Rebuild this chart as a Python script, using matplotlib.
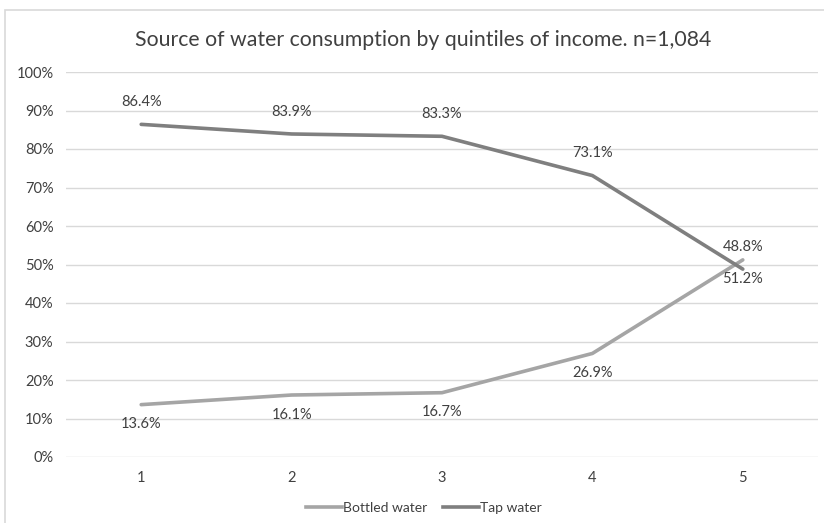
import matplotlib
matplotlib.use("Agg")
import matplotlib.pyplot as plt
from matplotlib.patches import Rectangle
from matplotlib.lines import Line2D

quintiles = [1, 2, 3, 4, 5]
bottled = [13.6, 16.1, 16.7, 26.9, 51.2]
tap = [86.4, 83.9, 83.3, 73.1, 48.8]
yticks = [0, 10, 20, 30, 40, 50, 60, 70, 80, 90, 100]
title = "Source of water consumption by quintiles of income. n=1,084"

plt.rcParams['font.family'] = ['Lato', 'DejaVu Sans']
text_color = "#404040"
c_bottled = "#A5A5A5"
c_tap = "#7F7F7F"

W, H = 824, 523
fig = plt.figure(figsize=(W / 100, H / 100), dpi=100)

# outer chart frame
fig.patches.append(Rectangle((5 / W, -0.05), 1.2, 1 - 10 / H + 0.05,
                             transform=fig.transFigure, fill=False,
                             edgecolor="#D9D9D9", linewidth=1.2))

ax = fig.add_axes([66 / W, 1 - 457 / H, (818 - 66) / W, (457 - 72) / H])
ax.set_xlim(0.5, 5.5)
ax.set_ylim(0, 100)
ax.set_yticks(yticks)
ax.set_yticklabels([f"{v}%" for v in yticks])
ax.set_xticks(quintiles)
ax.set_xticklabels([str(q) for q in quintiles])
ax.grid(axis="y", color="#D9D9D9", linewidth=1)
ax.set_axisbelow(True)
for s in ax.spines.values():
    s.set_visible(False)
ax.tick_params(length=0, labelsize=10.5, labelcolor=text_color)
ax.tick_params(axis="y", pad=9)
ax.tick_params(axis="x", pad=10)

ax.plot(quintiles, bottled, color=c_bottled, linewidth=2.6, solid_capstyle="round")
ax.plot(quintiles, tap, color=c_tap, linewidth=2.6, solid_capstyle="round")

for x, v in zip(quintiles, tap):
    ax.annotate(f"{v:.1f}%", (x, v), xytext=(0, 11), textcoords="offset points",
                ha="center", va="bottom", fontsize=10.5, color=text_color)
for x, v in zip(quintiles, bottled):
    ax.annotate(f"{v:.1f}%", (x, v), xytext=(0, -9), textcoords="offset points",
                ha="center", va="top", fontsize=10.5, color=text_color)

fig.text(423 / W, 1 - 40 / H, title, ha="center", va="center", fontsize=15.3,
         color=text_color)

handles = [Line2D([], [], color=c_bottled, linewidth=2.6),
           Line2D([], [], color=c_tap, linewidth=2.6)]
fig.legend(handles, ["Bottled water", "Tap water"], loc="center",
           bbox_to_anchor=(424 / W, 1 - 508 / H), ncol=2, frameon=False,
           fontsize=10, labelcolor=text_color, handlelength=2.6,
           handletextpad=0.1, columnspacing=1.1)

fig.savefig("out.png", dpi=100)
